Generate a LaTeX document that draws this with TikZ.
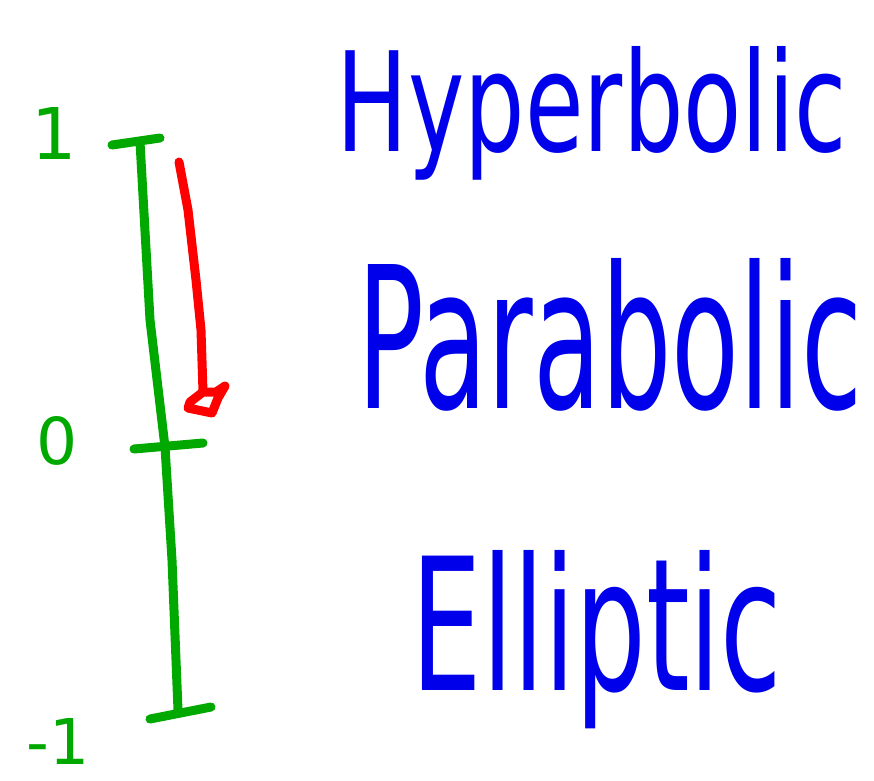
\documentclass[tikz,border=0pt]{standalone}
\usepackage{fontspec}
\setmainfont{DejaVu Sans}
\usepackage{graphicx}
\definecolor{pgreen}{RGB}{0,168,0}
\definecolor{pblue}{RGB}{0,0,235}
\definecolor{pred}{RGB}{255,0,0}
\tikzset{
  pen/.style={line width=9pt, line cap=round, line join=round},
  axisline/.style={pen, draw=pgreen},
  arrowline/.style={pen, draw=pred},
  num/.style={text=pgreen, inner sep=0pt},
  word/.style={text=pblue, inner sep=0pt}
}
\begin{document}
\begin{tikzpicture}[x=1pt,y=-1pt]
\useasboundingbox (0,0) rectangle (874,780);
% axis
\coordinate (top) at (140,142);
\coordinate (mid) at (165,447);
\coordinate (bot) at (178,710);
\coordinate (topL) at (112,145);
\coordinate (topR) at (160,138);
\coordinate (midL) at (134,449);
\coordinate (midR) at (203,443);
\coordinate (botL) at (150,719);
\coordinate (botR) at (211,707);
\draw[axisline] (top) -- (150,320) -- (mid) -- (172,560) -- (bot);
\draw[axisline] (topL) -- (topR);
\draw[axisline] (midL) -- (midR);
\draw[axisline] (botL) -- (botR);
% numbers
\node[num] (one) at (54,133) {\resizebox{!}{52pt}{1}};
\node[num] (zero) at (57,441) {\resizebox{!}{48pt}{0}};
\node[num] (mone) at (58,741) {\resizebox{!}{46pt}{-1}};
% red arrow
\coordinate (rs) at (179,162);
\coordinate (re) at (203,392);
\draw[arrowline] (rs) -- (188,210) -- (196,280) -- (201,330) -- (re);
\draw[arrowline] (re) -- (190,402) -- (188,408) -- (212,413) -- (218,398) -- (225,386) -- (216,392) -- (203,392);
% words
\node[word] (hyp) at (592,113) {\resizebox{510pt}{105pt}{Hyperbolic}};
\node[word] (par) at (610,335) {\resizebox{505pt}{150pt}{Parabolic}};
\node[word] (ell) at (597,640) {\resizebox{370pt}{140pt}{Elliptic}};
\end{tikzpicture}
\end{document}
